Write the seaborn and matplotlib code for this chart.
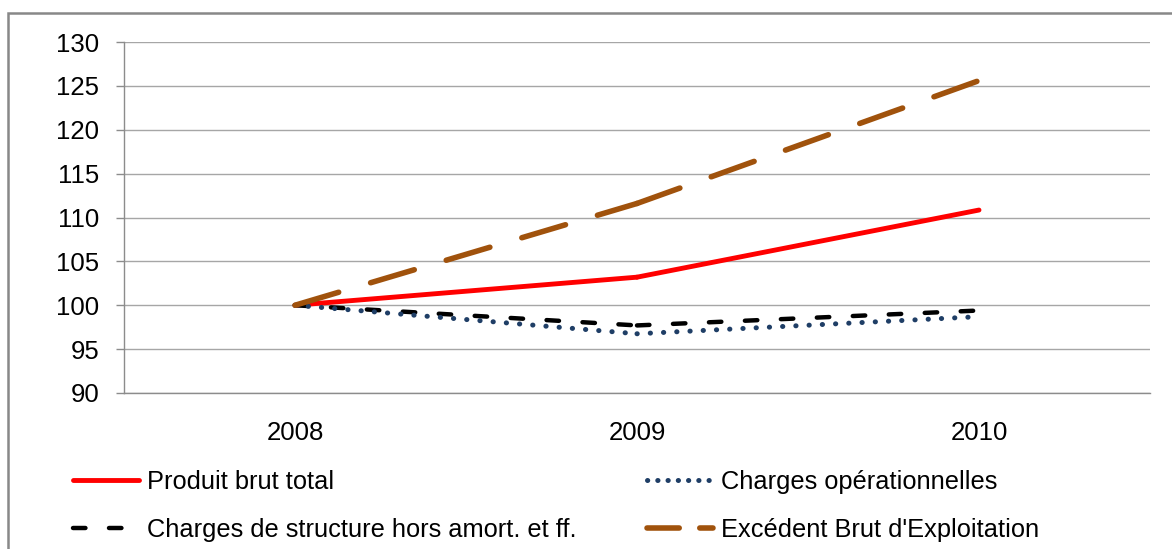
import matplotlib
matplotlib.use("Agg")
import matplotlib.pyplot as plt
import matplotlib.patches as mpatches
import seaborn as sns
import pandas as pd

years = ["2008", "2009", "2010"]
produit_brut = [100.0, 103.2, 110.85]
charges_oper = [100.0, 96.75, 98.7]
charges_struct = [100.0, 97.7, 99.4]
ebe = [100.0, 111.6, 125.6]

names = ["Produit brut total",
         "Charges de structure hors amort. et ff.",
         "Charges opérationnelles",
         "Excédent Brut d'Exploitation"]

sns.set_style("white")
plt.rcParams["font.family"] = ["Liberation Sans", "DejaVu Sans"]
plt.rcParams["text.color"] = "black"

df = pd.DataFrame({
    "annee": years * 4,
    "indice": produit_brut + charges_struct + charges_oper + ebe,
    "serie": [n for n in names for _ in years],
})

# style per serie: colour, width (pt), dash pattern (in linewidths), legend dash pattern
styles = {
    names[0]: ("#FF0000", 3.5, None, None),
    names[1]: ("#000000", 3.2, (2.8, 5.3), (2.8, 5.3)),
    names[2]: ("#1F3E66", 3.6, (0.05, 2.6), (0.05, 2.0)),
    names[3]: ("#A0520C", 4.0, (8.2, 6.0), (5.8, 3.7)),
}

fig = plt.figure(figsize=(11.72, 5.49), dpi=100)
ax = fig.add_axes([124 / 1172, 1 - 393 / 549, 1026 / 1172, 351 / 549])

# outer chart frame
fig.patches.append(mpatches.Rectangle((8 / 1172, -0.1), 1.2, 1.1 - 13 / 549,
                                      transform=fig.transFigure, fill=False,
                                      edgecolor="#888888", linewidth=1.8))

# the dash pattern restarts at every point (like the office chart), so draw per segment
handles = {}
for name in names:
    col, lw, dash, _ = styles[name]
    sub = df[df.serie == name].reset_index(drop=True)
    for i in range(len(sub) - 1):
        sns.lineplot(data=sub.iloc[i:i + 2], x="annee", y="indice", ax=ax, color=col,
                     linewidth=lw, sort=False, legend=False)
        ln = ax.lines[-1]
        ln.set_solid_capstyle("round")
        ln.set_dash_capstyle("round")
        if dash is not None:
            ln.set_dashes(dash)
        handles[name] = ln

ax.set_xlim(-0.5, 2.5)
ax.set_ylim(90, 130)
ax.set_yticks(range(90, 131, 5))
ax.set_xlabel("")
ax.set_ylabel("")
ax.yaxis.grid(True, color="#A6A6A6", linewidth=1.0)
ax.set_axisbelow(True)

for s in ["top", "right"]:
    ax.spines[s].set_visible(False)
for s in ["left", "bottom"]:
    ax.spines[s].set_color("#8C8C8C")
    ax.spines[s].set_linewidth(1.0)

ax.set_xticks([0, 1, 2])
ax.set_xticklabels(years)
ax.set_xticks([-0.5, 0.5, 1.5, 2.5], minor=True)
ax.tick_params(axis="x", which="major", length=0, pad=20, labelsize=18.5, labelcolor="black")
ax.tick_params(axis="x", which="minor", length=6, width=1, color="#8C8C8C", direction="out")
ax.tick_params(axis="y", length=6, width=1, color="#8C8C8C", pad=12, labelsize=18.5,
               labelcolor="black", direction="out", left=True)

leg = fig.legend([handles[n] for n in names], names, loc="upper left",
                 bbox_to_anchor=(73 / 1172, 1 - 470 / 549), ncol=2, frameon=False,
                 fontsize=18.3, handlelength=2.6, handletextpad=0.32, columnspacing=2.75,
                 labelspacing=0.95, borderpad=0, borderaxespad=0, labelcolor="black")
for name, lh in zip(names, leg.get_lines()):
    ldash = styles[name][3]
    if ldash is not None:
        lh.set_dashes(ldash)

fig.savefig("out.png", dpi=100)
